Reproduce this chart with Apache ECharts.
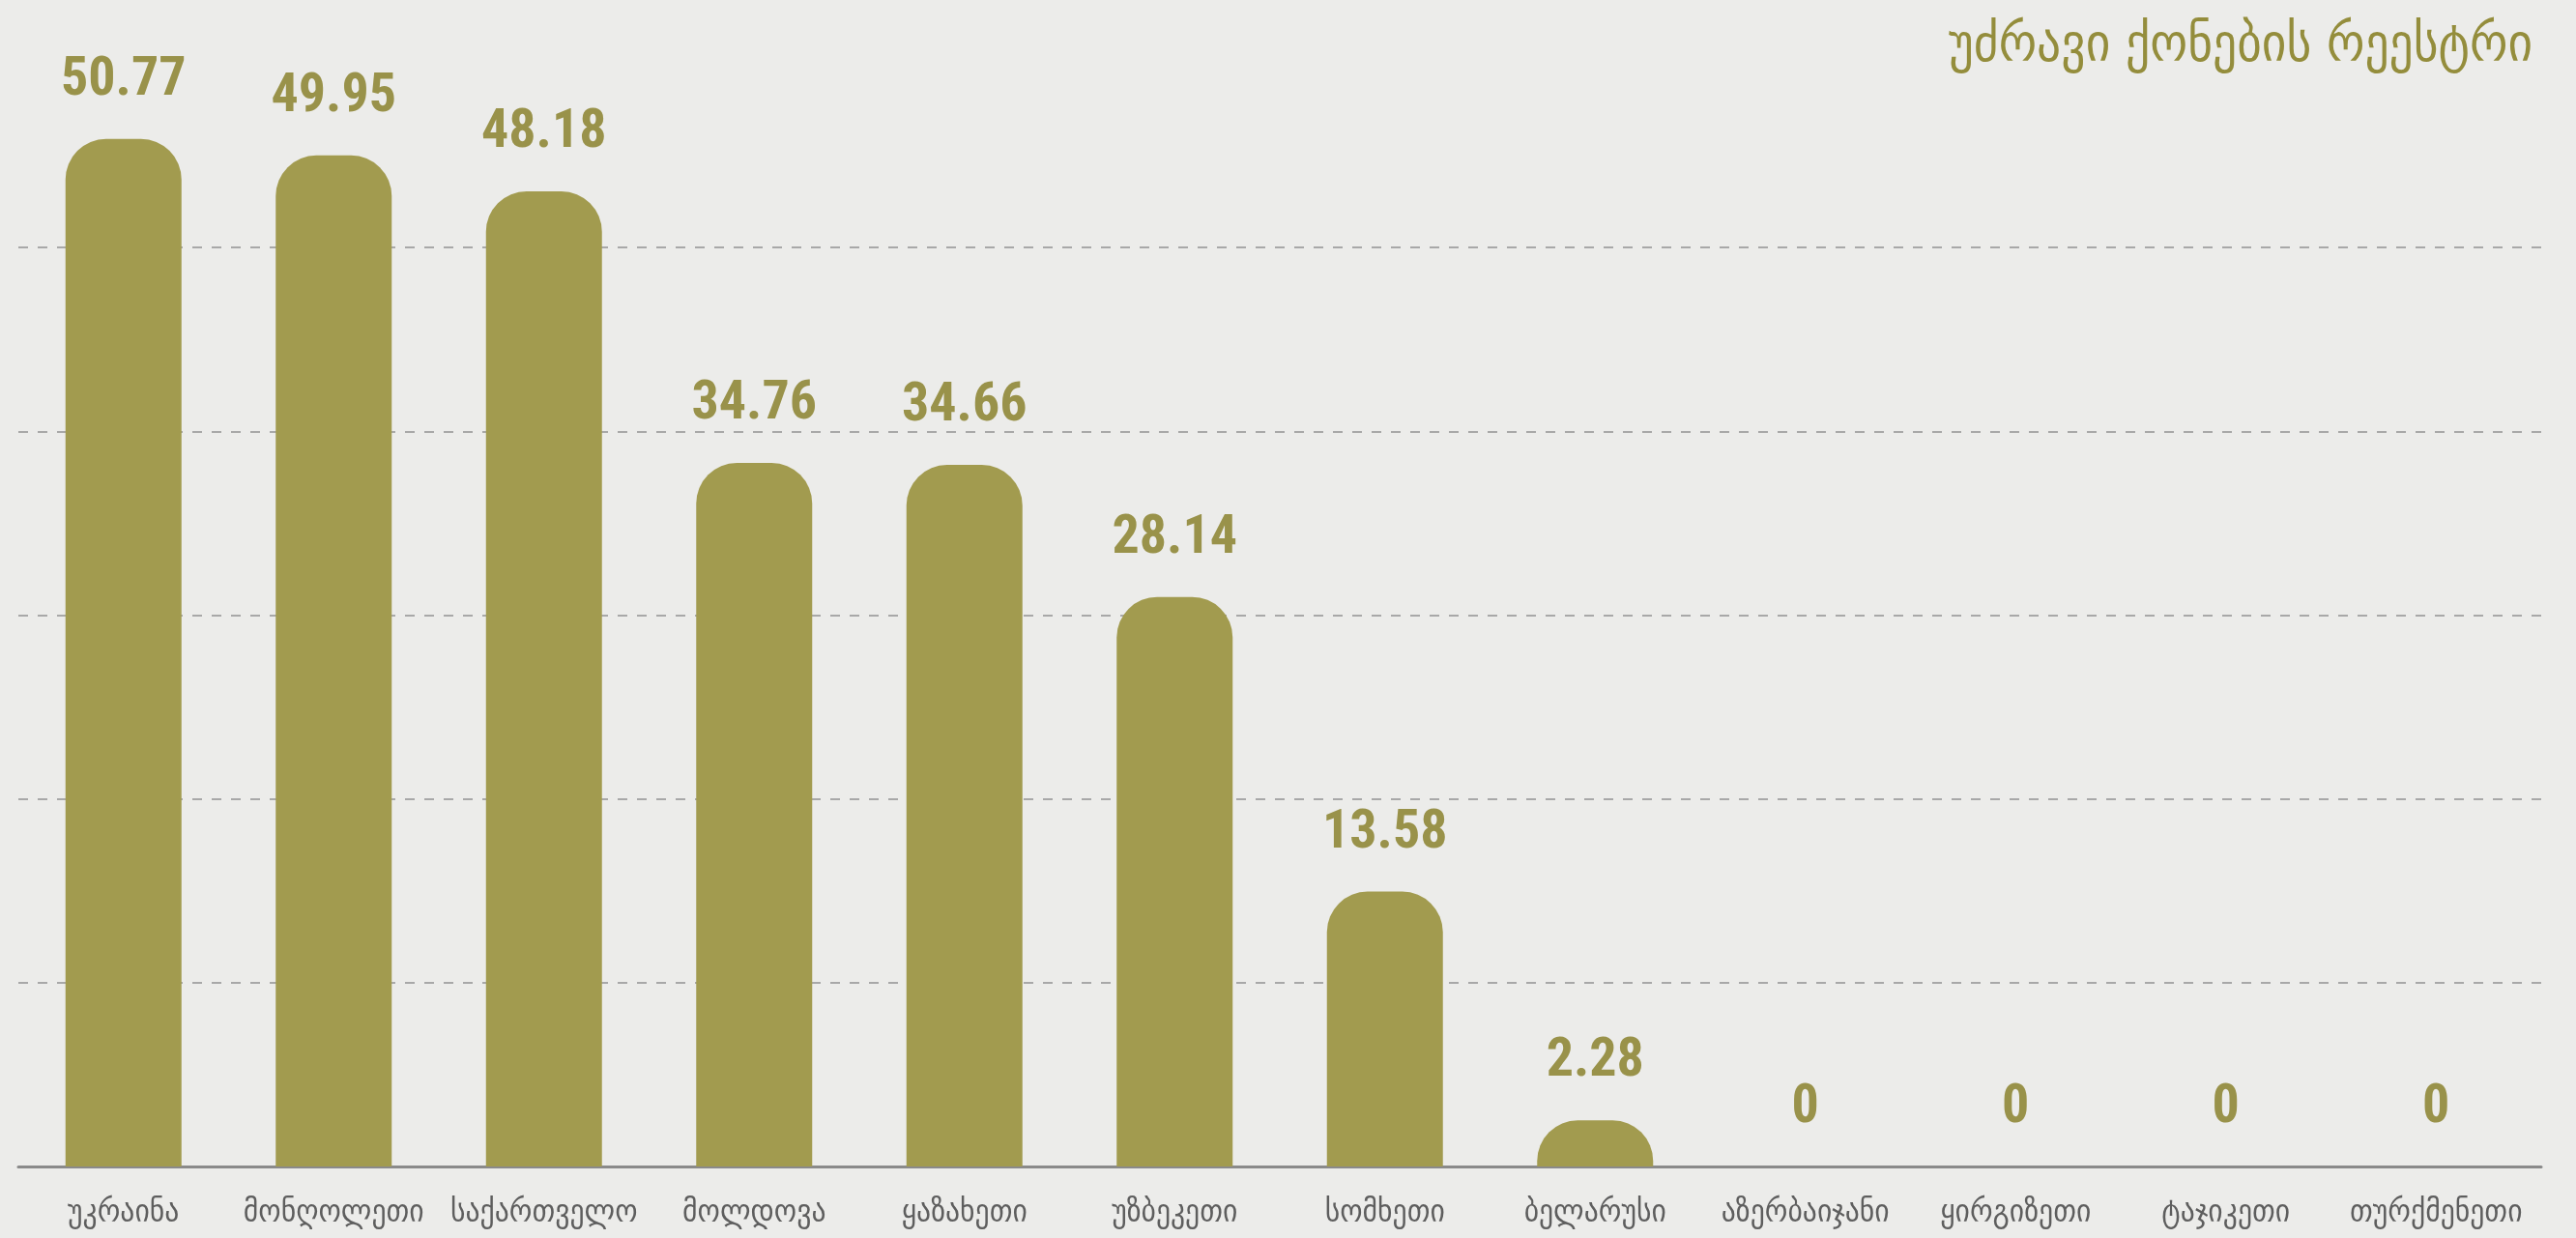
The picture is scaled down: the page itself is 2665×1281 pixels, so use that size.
<!DOCTYPE html>
<html>
<head>
<meta charset="utf-8">
<script src="https://cdn.jsdelivr.net/npm/echarts@6/dist/echarts.min.js"></script>
<style>
html,body{margin:0;padding:0;background:#ececea;}
#c{width:2665px;height:1281px;}
</style>
</head>
<body>
<div id="c"></div>
<script>
const titleText = 'უძრავი ქონების რეესტრი';
const categories = ['უკრაინა','მონღოლეთი','საქართველო','მოლდოვა','ყაზახეთი','უზბეკეთი','სომხეთი','ბელარუსი','აზერბაიჯანი','ყირგიზეთი','ტაჯიკეთი','თურქმენეთი'];
const values = [50.77, 49.95, 48.18, 34.76, 34.66, 28.14, 13.58, 2.28, 0, 0, 0, 0];
const yMax = 54.48;
const yInterval = 9.08;

const chart = echarts.init(document.getElementById('c'));
chart.setOption({
  backgroundColor: '#ececea',
  animation: false,
  title: {
    text: titleText,
    right: 40,
    top: 16,
    textStyle: {
      fontFamily: 'DejaVu Sans Condensed, DejaVu Sans',
      fontSize: 55,
      fontWeight: 'normal',
      color: '#948d3c'
    }
  },
  grid: { left: 19, right: 36, top: 66, bottom: 74, containLabel: false },
  xAxis: {
    type: 'category',
    data: categories,
    axisLine: { show: true, lineStyle: { color: '#8a8a8a', width: 3 } },
    axisTick: { show: false },
    axisLabel: {
      margin: 32,
      fontFamily: 'DejaVu Sans Condensed, DejaVu Sans',
      fontSize: 33,
      color: '#5e5e5e',
      interval: 0
    }
  },
  yAxis: {
    type: 'value',
    min: 0,
    max: yMax,
    interval: yInterval,
    axisLabel: { show: false },
    axisLine: { show: false },
    axisTick: { show: false },
    splitLine: {
      show: true,
      showMinLine: false,
      showMaxLine: false,
      lineStyle: { color: '#a8a8a8', width: 2, type: [10, 10] }
    }
  },
  series: [{
    type: 'bar',
    data: values,
    barWidth: 120,
    itemStyle: { color: '#a29b4f', borderRadius: [42, 42, 0, 0] },
    label: {
      show: true,
      position: 'top',
      distance: 32,
      fontFamily: 'Roboto Condensed, DejaVu Sans Condensed, DejaVu Sans',
      fontWeight: 'bold',
      fontSize: 56,
      color: '#99924a'
    }
  }]
});
</script>
</body>
</html>
